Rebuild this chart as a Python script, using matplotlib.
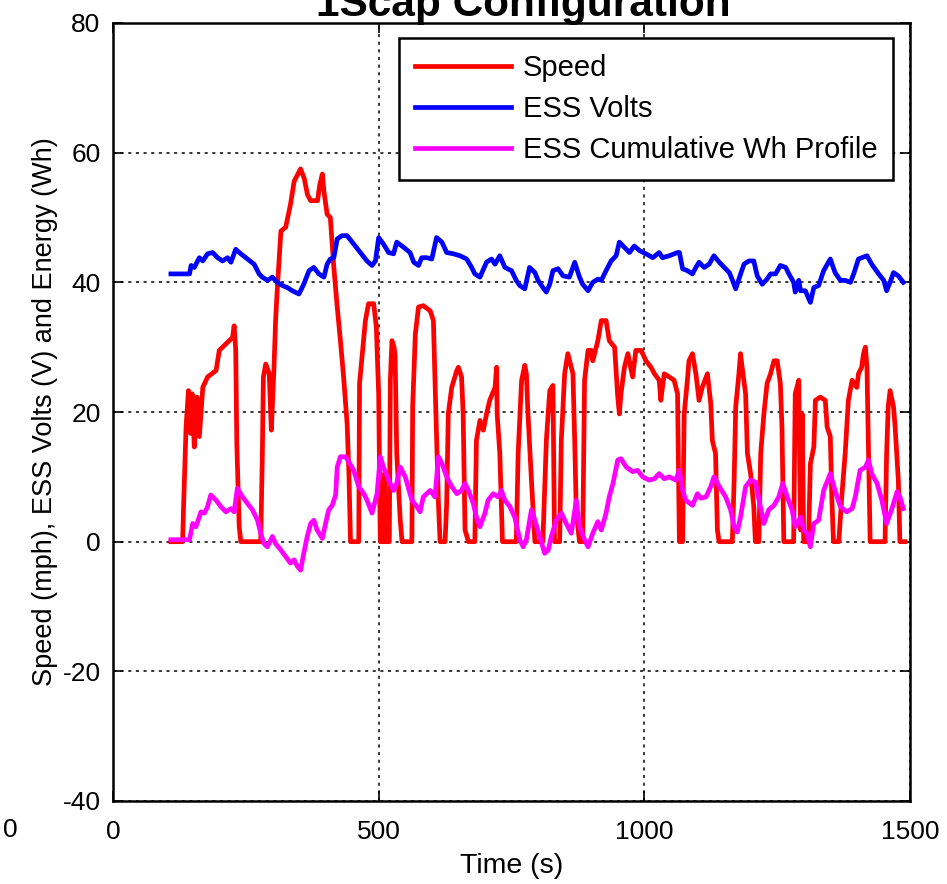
import numpy as np
import matplotlib
matplotlib.use("Agg")
import matplotlib.pyplot as plt

# Speed (mph) vs time (s)
speed_t = [109, 131, 133, 137.5, 142, 146, 149, 153, 158, 162.5, 169, 178, 194, 200, 212.5, 225, 228, 231,
           233, 237.5, 240.6, 278, 281, 283, 287.5, 294, 298, 303, 306, 309, 316, 325, 334, 341, 353, 360,
           366, 372, 385, 389, 394, 397, 403, 409, 415.6, 422, 428, 434, 440.6, 444, 447, 462.5, 464, 475,
           481, 490.6, 495.6, 500, 503, 509, 511, 513, 520, 522, 525, 529, 531, 534, 540.6, 544, 562.5,
           564, 569, 575, 584, 597, 603, 606, 612.5, 615.6, 625, 628, 631, 637.5, 647, 650, 656, 659,
           662.5, 669, 681, 684, 690.6, 697, 703, 709, 719, 722, 723, 728, 733, 759, 762.5, 769, 775, 778,
           781, 787.5, 794, 809, 815.6, 822, 828, 831, 840.6, 843.75, 850, 856, 865.6, 868.75, 872, 878,
           884, 887.5, 894, 900, 903, 912.5, 919, 928, 934, 944, 950, 953, 956, 962.5, 969, 978, 984,
           994, 1003, 1012.5, 1019, 1028, 1031, 1037.5, 1047, 1056, 1062.5, 1066, 1072, 1075, 1081, 1084,
           1090.6, 1097, 1103, 1109, 1118.75, 1125, 1128, 1134, 1137.5, 1140.6, 1165.6, 1169, 1172, 1178,
           1181, 1184, 1190.6, 1194, 1200, 1206, 1209, 1215.6, 1219, 1225, 1231, 1237.5, 1244, 1250, 1256,
           1259, 1262.5, 1281, 1284, 1290.6, 1294, 1297, 1300, 1309, 1312.5, 1319, 1322, 1331, 1340.6,
           1344, 1350, 1353, 1356, 1366, 1372, 1378, 1384, 1391, 1400, 1403, 1409, 1412.5, 1416, 1419,
           1422, 1425, 1453, 1456, 1459, 1462.5, 1469, 1472, 1478, 1481, 1490.6]
speed_v = [0, 0, 5.9, 17.7, 23.3, 16.7, 22.8, 14.6, 22.3, 16.2, 23.8, 25.4, 26.4, 29.5, 30.5, 31.5, 33.3, 29.5,
           15.1, 2.3, 0, 0, 13.1, 25.4, 27.4, 25.9, 17.2, 26.9, 34.1, 38.7, 47.9, 48.5, 52, 55.6, 57.5, 56,
           53.5, 52.6, 52.6, 55, 56.7, 54, 50.5, 50, 42.3, 36.2, 31, 25.4, 18.2, 10.5, 0, 0, 24.4, 34.1,
           36.7, 36.7, 33.1, 22.8, 0, 0, 10.5, 0, 0, 25, 31, 30, 28.5, 13.6, 3.3, 0, 0,
           20.8, 32, 36.2, 36.4, 35.6, 34.1, 24.9, 5.9, 0, 0, 5.9, 19.7, 23.8, 26.4, 26.9, 25.4, 19.7,
           1.8, 0, 0, 15.6, 18.7, 17.2, 19.7, 21.8, 23.8, 26.9, 19.7, 13.6, 0, 0, 13.6, 24.9, 27.2, 25.9,
           19.7, 9.5, 0, 0, 15.6, 23.3, 24.1, 0, 0, 15.6, 25.9, 29, 25.9, 16.2, 4.4, 0,
           0, 24.9, 29.5, 29.5, 27.9, 31, 34.1, 34.1, 31, 30, 22.3, 19.7, 22.8, 26.9, 29, 25.4, 29.5,
           29.5, 27.9, 26.9, 25.9, 24.9, 21.8, 25.9, 25.4, 24.9, 22.8, 0, 0, 19.7, 24.9, 27.9,
           29, 25.9, 21.8, 23.8, 25.9, 21.3, 15.6, 13.6, 1.8, 0, 0, 9.5, 20.8, 25.9,
           29, 26.9, 22.8, 13.6, 10.5, 5.4, 0, 0, 13.6, 19.7, 24.4, 25.9, 27.9, 27.9, 24.4,
           17.7, 0, 0, 22.8, 24.9, 1.8, 19.7, 0, 0, 12, 14.6, 21.8, 22.3, 21.8,
           17.7, 16.2, 6.4, 0, 0, 7.4, 13.6, 21.8, 24.9, 23.8, 25.9, 26.9, 29, 30, 26.9,
           13.6, 0, 0, 13.6, 20.8, 23.3, 20.8, 17.7, 9.5, 0, 0]

# ESS voltage (V)
volts_t = [109, 144, 147, 153, 162.5, 169, 178, 187.5, 197, 206, 215.6, 222, 231, 240.6, 253, 265.6, 275, 281,
           290.6, 300, 309, 319, 328, 337.5, 350, 359, 369, 378, 387.5, 397, 403, 409, 415.6, 422, 431,
           440.6, 453, 465.6, 478, 487.5, 494, 500, 509, 518.75, 528, 534, 547, 559, 566, 575, 581, 590.6,
           600, 609, 619, 628, 640.6, 653, 665.6, 675, 681, 690.6, 703, 712.5, 719, 728, 737.5, 750, 759,
           765.6, 775, 784, 794, 800, 809, 815.6, 822, 828, 837.5, 847, 859, 869, 878, 884, 894, 903,
           912.5, 919, 928, 937.5, 947, 953, 962.5, 972, 981, 991, 1003, 1016, 1028, 1034, 1047, 1062.5,
           1066, 1072, 1081, 1090.6, 1097, 1103, 1112.5, 1122, 1131, 1141, 1150.6, 1160, 1166, 1172, 1178,
           1187.5, 1197, 1206, 1212.5, 1222, 1231, 1237.5, 1247, 1256, 1266, 1272, 1281, 1284, 1290.6,
           1294, 1303, 1312.5, 1319, 1328, 1337.5, 1350, 1359, 1369, 1378, 1388, 1394, 1403, 1419, 1428,
           1441, 1450.6, 1456, 1462.5, 1469, 1478, 1487.5]
volts_v = [41.3, 41.3, 42.6, 42.3, 43.8, 43.3, 44.4, 44.6, 43.8, 43.3, 43.8, 43.1, 45.1, 44.4, 43.6, 42.8, 41.3, 40.8,
           40.3, 40.8, 40, 39.5, 39.2, 38.7, 38.2, 39.7, 41.8, 42.3, 41.3, 40.8, 42.8, 43.6, 43.8, 46.7, 47.2,
           47.2, 45.9, 44.6, 43.3, 42.6, 43.3, 46.9, 45.9, 44.6, 44.4, 46.2, 45.4, 44.6, 43.1, 42.6, 43.8, 43.8,
           43.6, 46.9, 46.2, 44.6, 44.4, 44.1, 43.6, 42.3, 41.3, 40.8, 43.1, 43.6, 42.8, 44.1, 42.3, 41.8, 40.3,
           39.5, 39, 42.3, 41.5, 40.3, 39.2, 38.5, 39.7, 41.8, 42.1, 41, 40.8, 43.1, 40.8, 39.7, 38.7, 40,
           40.5, 40.3, 41.8, 43.3, 44.1, 46.2, 45.4, 44.6, 45.6, 44.9, 44.4, 43.8, 44.6, 43.8, 44.1, 44.6,
           44.6, 42.1, 41.8, 41.3, 42.3, 43.1, 42.3, 42.8, 44.1, 43.1, 42.3, 41.5, 40.3, 39, 40.5,
           42.8, 43.3, 43.3, 41, 39.7, 40.5, 41.3, 41.3, 42.6, 42.3, 41.3, 40, 38.5, 40.3,
           38.7, 38.7, 36.9, 39.2, 39.5, 41.8, 43.6, 41.5, 40.3, 40.3, 40, 41.3, 43.6, 44.1, 42.8,
           41.3, 40.3, 38.7, 40, 41.5, 41, 40]

# ESS cumulative energy (Wh)
energy_t = [109, 144, 150, 156, 165.6, 172, 178, 184, 194, 203, 212.5, 222, 228, 234, 244, 253, 262.5, 272, 278,
            284, 290.6, 300, 306, 316, 325, 334, 341, 347, 353, 359, 365.6, 372, 378, 384, 394, 400, 406,
            412.5, 419, 422, 428, 437.5, 444, 453, 462.5, 472, 478, 487.5, 497, 503, 509, 518.75, 528,
            534, 540.6, 550, 562.5, 572, 578, 584, 597, 606, 612.5, 619, 628, 637.5, 647, 656, 662.5, 669,
            678, 684, 690.6, 700, 706, 715.6, 725, 731, 737.5, 747, 756, 765.6, 772, 778, 787.5, 794, 803,
            812.5, 819, 825, 834, 844, 853, 862.5, 872, 878, 887.5, 894, 903, 912.5, 919, 928, 934, 941,
            950, 956, 966, 978, 987.5, 997, 1009, 1019, 1028, 1037.5, 1047, 1059, 1066, 1072, 1078, 1090.6,
            1100, 1106, 1116, 1125, 1131, 1141, 1153, 1162.5, 1169, 1175, 1181, 1190.6, 1200, 1209, 1216,
            1225, 1234, 1244, 1253, 1260.6, 1269, 1278, 1284, 1294, 1300, 1306, 1312.5, 1319, 1328, 1337.5,
            1350, 1359, 1369, 1381, 1391, 1397, 1406, 1416, 1422, 1428, 1438, 1447, 1456, 1466, 1475.6,
            1481, 1487.5]
energy_v = [0.3, 0.3, 2.8, 2.3, 4.6, 4.4, 5.4, 7.2, 6.4, 5.4, 4.6, 5.1, 4.6, 8.2, 6.9, 5.9, 4.9, 3.3, 1.3,
            -0.3, -0.8, 0.8, -0.3, -1.3, -2.3, -3.3, -2.8, -3.8, -4.4, -1.8, 0.8, 2.8, 3.3, 1.8, 0.5, 2.8, 4.9,
            5.6, 7.2, 11.5, 13.1, 13.1, 12.3, 11, 8.5, 7.4, 6.4, 4.4, 7.4, 13.1, 11.5, 9.5, 7.9,
            9, 11.5, 10, 6.4, 5.4, 4.6, 6.9, 7.9, 6.9, 13.1, 12.1, 10, 8.5, 7.4, 7.9, 9, 7.9,
            5.9, 3.8, 2.3, 4.4, 6.4, 7.4, 6.9, 7.9, 6.4, 5.4, 3.8, 0.3, -0.8, 0.3, 4.9, 3.3, 0.8,
            -1.8, -1.3, 0.8, 3.3, 4.4, 2.8, 1.3, 6.4, 2.3, 0.3, -0.8, 1.3, 3.1, 1.8, 4.4, 6.9, 9,
            12.6, 12.8, 11.5, 10.8, 11, 10, 9.5, 9.7, 10.5, 9.7, 10, 9.5, 11, 7.9, 6.4, 5.6,
            7.4, 6.7, 6.9, 8.5, 10, 8.5, 6.9, 4.9, 2.3, 1.5, 3.8, 8.5, 9.5, 9.2, 6.4,
            2.8, 4.9, 5.6, 6.9, 9, 6.9, 4.9, 2.3, 3.8, 1.8, 1.3, -0.8, 2.8, 3.3, 7.9,
            10.5, 7.9, 5.4, 4.6, 5.1, 6.9, 11, 11.5, 12.6, 10.5, 9, 6.4, 2.8, 5.1, 7.7,
            6.9, 5.1]

x_ticks = [0, 500, 1000, 1500]
y_ticks = [-40, -20, 0, 20, 40, 60, 80]

plt.rcParams['font.family'] = ['Liberation Sans', 'DejaVu Sans']
plt.rcParams['axes.unicode_minus'] = False
fs = 19.5

fig = plt.figure(figsize=(9.47, 8.84), dpi=100)
ax = fig.add_axes([113 / 947, 83 / 884, 797 / 947, 778 / 884])

lw = 3.4
ax.plot(speed_t, speed_v, color='#ff0000', lw=lw, label='Speed')
ax.plot(volts_t, volts_v, color='#0000ff', lw=lw, label='ESS Volts')
ax.plot(energy_t, energy_v, color='#ff00ff', lw=lw, label='ESS Cumulative Wh Profile')

ax.set_xlim(0, 1500)
ax.set_ylim(-40, 80)
ax.set_xticks(x_ticks)
ax.set_yticks(y_ticks)
ax.tick_params(axis='both', direction='in', length=7, width=1.2, top=True, right=True,
               labelsize=19)
ax.tick_params(axis='x', pad=14)
ax.tick_params(axis='y', pad=9)
ax.grid(True, color='black', linestyle=(0, (2, 3)), linewidth=1.1)
for s in ax.spines.values():
    s.set_linewidth(1.8)

ax.set_xlabel('Time (s)', fontsize=20.5, labelpad=6)
ax.set_ylabel('Speed (mph), ESS Volts (V) and Energy (Wh)', fontsize=fs, labelpad=3)

leg = ax.legend(loc='upper right', bbox_to_anchor=(0.979, 0.981), borderaxespad=0,
                fontsize=21, fancybox=False, framealpha=1, edgecolor='black',
                handlelength=3.3, labelspacing=0.45, borderpad=0.55, handletextpad=0.4)
leg.get_frame().set_linewidth(1.8)

# title sits partly outside the canvas, as in the original export
fig.text(523 / 947, 1 - 16 / 884, '1Scap Configuration', fontsize=30.5, fontweight='bold',
         ha='center', va='baseline')
# stray tick label left of the axes
fig.text(10 / 947, 1 - 830 / 884, '0', fontsize=19, ha='center', va='center')

fig.savefig('out.png', dpi=100)
